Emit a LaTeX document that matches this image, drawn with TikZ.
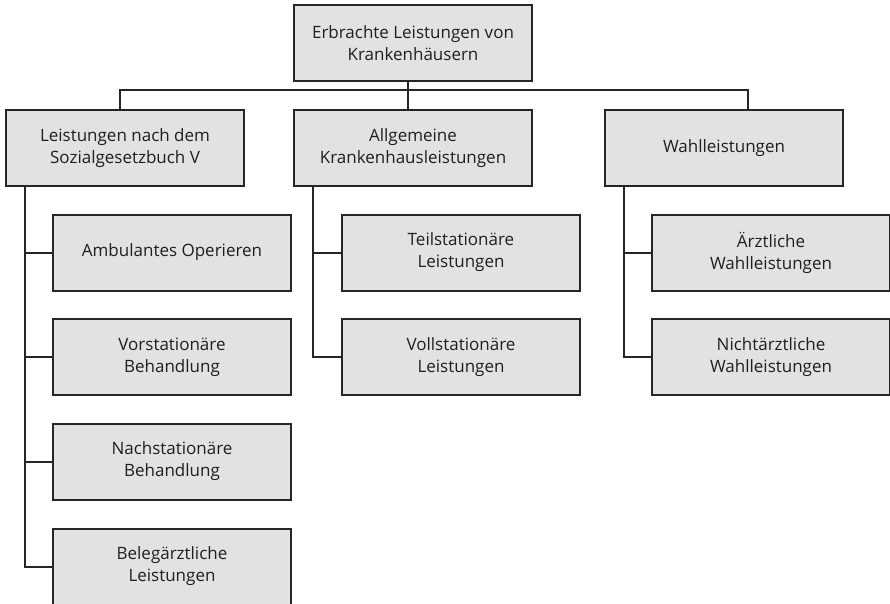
\documentclass[tikz,border=0pt]{standalone}
\usepackage{fontspec}
\setmainfont{Open Sans}
\definecolor{boxfill}{HTML}{E1E2E4}
\definecolor{linec}{HTML}{262626}
\begin{document}
\begin{tikzpicture}[x=1pt,y=-1pt,
  box/.style={draw=linec, fill=boxfill, line width=2pt, minimum width=238pt, minimum height=76pt, align=center, inner sep=0pt, text=black!88, font=\fontsize{17}{22}\selectfont},
  conn/.style={draw=linec, line width=2pt}]
\useasboundingbox (0,0) rectangle (890,604);
\node[box] (top) at (413,43) {Erbrachte Leistungen von\\Krankenhäusern};
\node[box] (l1) at (125,148) {Leistungen nach dem\\Sozialgesetzbuch V};
\node[box] (l2) at (413,148) {Allgemeine\\Krankenhausleistungen};
\node[box] (l3) at (724,148) {Wahlleistungen};
\node[box] (c11) at (172,252.5) {Ambulantes Operieren};
\node[box] (c12) at (172,357) {Vorstationäre\\Behandlung};
\node[box] (c13) at (172,461.5) {Nachstationäre\\Behandlung};
\node[box] (c14) at (172,566.5) {Belegärztliche\\Leistungen};
\node[box] (c21) at (461,252.5) {Teilstationäre\\Leistungen};
\node[box] (c22) at (461,357) {Vollstationäre\\Leistungen};
\node[box] (c31) at (771,252.5) {Ärztliche\\Wahlleistungen};
\node[box] (c32) at (771,357) {Nichtärztliche\\Wahlleistungen};
\draw[conn] ([xshift=-5pt]top.south) -- ([xshift=-5pt]l2.north);
\draw[conn] ([xshift=-5pt]l1.north) -- ++(0,-19) -| ([xshift=24pt]l3.north);
\draw[conn] ([xshift=-100pt]l1.south) |- (c14.west);
\foreach \c in {c11,c12,c13} \draw[conn] (\c.west) -- +(-28,0);
\draw[conn] ([xshift=-100pt]l2.south) |- (c22.west);
\draw[conn] (c21.west) -- +(-29,0);
\draw[conn] ([xshift=-100pt]l3.south) |- (c32.west);
\draw[conn] (c31.west) -- +(-28,0);
\end{tikzpicture}
\end{document}
